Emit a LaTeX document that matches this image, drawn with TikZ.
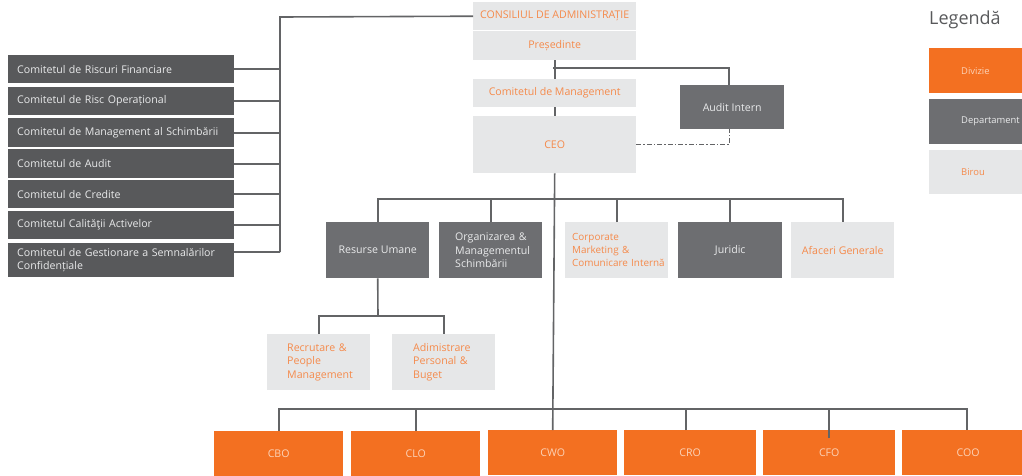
\documentclass[tikz,border=0pt]{standalone}
\usepackage{fontspec}
\setmainfont{Open Sans}
\definecolor{orng}{HTML}{F37021}
\definecolor{dgray}{HTML}{6D6E71}
\definecolor{cgray}{HTML}{58595B}
\definecolor{lgray}{HTML}{E6E7E8}
\definecolor{otext}{HTML}{F58A4B}
\definecolor{wtext}{HTML}{E9EAEB}
\definecolor{ptext}{HTML}{FCD2B6}
\definecolor{linec}{HTML}{636466}
\begin{document}
\begin{tikzpicture}[x=1pt,y=-1pt,
  base/.style={anchor=north west,inner sep=0pt,font=\fontsize{10.6}{13.3}\selectfont},
  comm/.style={base,fill=cgray,text=wtext,minimum width=226pt,text width=208pt,inner xsep=9pt,align=left},
  dept/.style={base,fill=dgray,text=wtext,align=center},
  deptl/.style={base,fill=dgray,text=wtext,align=left},
  office/.style={base,fill=lgray,text=otext,align=center},
  officel/.style={base,fill=lgray,text=otext,align=left},
  legbox/.style={base,minimum width=100pt,text width=100pt,align=left,font=\fontsize{9.4}{11}\selectfont},
  div/.style={base,fill=orng,text=ptext,align=center,minimum width=129pt,minimum height=45pt},
  conn/.style={draw=linec,line width=1.6pt},
  dashc/.style={draw=linec,line width=1.2pt,dash pattern=on 5pt off 2pt on 1.5pt off 2pt}
]
\useasboundingbox (0,0) rectangle (1022,475);
% left committees
\node[comm,minimum height=28pt] (c1) at (8,55) {Comitetul de Riscuri Financiare};
\node[comm,minimum height=28pt] (c2) at (8,87) {Comitetul de Risc Operațional};
\node[comm,minimum height=29pt] (c3) at (8,118) {Comitetul de Management al Schimbării};
\node[comm,minimum height=29pt] (c4) at (8,149) {Comitetul de Audit};
\node[comm,minimum height=28pt] (c5) at (8,180) {Comitetul de Credite};
\node[comm,minimum height=28pt] (c6) at (8,211) {Comitetul Calităţii Activelor};
\node[comm,minimum height=34pt] (c7) at (8,243) {Comitetul de Gestionare a Semnalărilor\\Confidențiale};
% top column
\node[office,minimum width=163pt,minimum height=28pt] (board) at (473,2) {CONSILIUL DE ADMINISTRAȚIE};
\node[office,minimum width=163pt,minimum height=29pt] (pres) at (473,31) {Președinte};
\node[office,minimum width=163pt,minimum height=28pt] (mgmt) at (473,79) {Comitetul de Management};
\node[office,minimum width=163pt,minimum height=57pt] (ceo) at (473,116) {CEO};
\node[dept,minimum width=104pt,minimum height=44pt] (audit) at (680,85) {Audit Intern};
% legend
\node[anchor=west,inner sep=0pt,text=cgray,font=\fontsize{18}{20}\selectfont] (leg) at (929,20) {Legendă};
\node[legbox,fill=orng,text=ptext,minimum height=45pt] (l1) at (929,48) {\hspace*{32pt}Divizie};
\node[legbox,fill=dgray,text=wtext,minimum height=45pt] (l2) at (929,99) {\hspace*{32pt}Departament};
\node[legbox,fill=lgray,text=otext,minimum height=44pt] (l3) at (929,150) {\hspace*{32pt}Birou};
% second tier
\node[dept,minimum width=103pt,minimum height=56pt] (hr) at (326,222) {Resurse Umane};
\node[deptl,minimum width=103pt,minimum height=56pt,text width=71pt,inner xsep=16pt] (org) at (439,222) {\mbox{Organizarea \&}\\\mbox{Managementul}\\\mbox{Schimbării}};
\node[officel,minimum width=103pt,minimum height=56pt,text width=89pt,inner xsep=7pt,font=\fontsize{9.9}{12.8}\selectfont] (corp) at (565,222) {\mbox{Corporate}\\\mbox{Marketing \&}\\\mbox{Comunicare Internă}};
\node[dept,minimum width=104pt,minimum height=56pt] (jur) at (678,222) {Juridic};
\node[office,minimum width=103pt,minimum height=56pt] (afc) at (791,222) {Afaceri Generale};
% third tier
\node[officel,minimum width=103pt,minimum height=56pt,text width=63pt,inner xsep=20pt] (rec) at (267,334) {\mbox{Recrutare \&}\\\mbox{People}\\\mbox{Management}};
\node[officel,minimum width=103pt,minimum height=56pt,text width=61pt,inner xsep=21pt] (adm) at (392,334) {\mbox{Adimistrare}\\\mbox{Personal \&}\\\mbox{Buget}};
% divisions
\node[div] (cbo) at (214,431) {CBO};
\node[div] (clo) at (351,431) {CLO};
\node[div] (cwo) at (488,430) {CWO};
\node[div,minimum width=132pt] (cro) at (624,430) {CRO};
\node[div,minimum width=132pt] (cfo) at (763,430) {CFO};
\node[div,minimum width=132pt] (coo) at (902,430) {COO};
% junction coordinates
\coordinate (bus) at (280,17);
\coordinate (c7j) at ([yshift=8pt]c7.east);
\coordinate (j1) at (553,68);
\coordinate (t2) at (553,199);
\coordinate (t3) at (378,316);
\coordinate (t4) at (553,409);
% connectors
\draw[conn] (board.west) -- (bus) -- (bus |- c7j);
\foreach \c in {c1,c2,c3,c4,c5,c6}{\draw[conn] (\c.east) -- (\c.east -| bus);}
\draw[conn] (c7j) -- (c7j -| bus);
\draw[conn] (pres.south) -- (mgmt.north);
\draw[conn] (mgmt.south) -- (ceo.north);
\draw[conn] (j1) -| ([xshift=-3pt]audit.north);
\draw[dashc] (ceo.east) -| ([xshift=-3pt]audit.south);
\draw[conn] (ceo.south) -- (cwo.north);
\draw[conn] (hr.north) |- (t2) -| (afc.north);
\foreach \c in {org,corp,jur}{\draw[conn] (\c.north) -- (\c.north |- t2);}
\draw[conn] (hr.south) -- (t3);
\draw[conn] (rec.north) |- (t3) -| (adm.north);
\draw[conn] (cbo.north) |- (t4) -| ([xshift=-1pt]coo.north);
\draw[conn] (clo.north) -- (clo.north |- t4);
\draw[conn] ([xshift=-4pt]cro.north) -- ([xshift=-4pt]cro.north |- t4);
\draw[conn] (cfo.north) ++(0,8) -- (cfo.north |- t4);
\end{tikzpicture}
\end{document}
